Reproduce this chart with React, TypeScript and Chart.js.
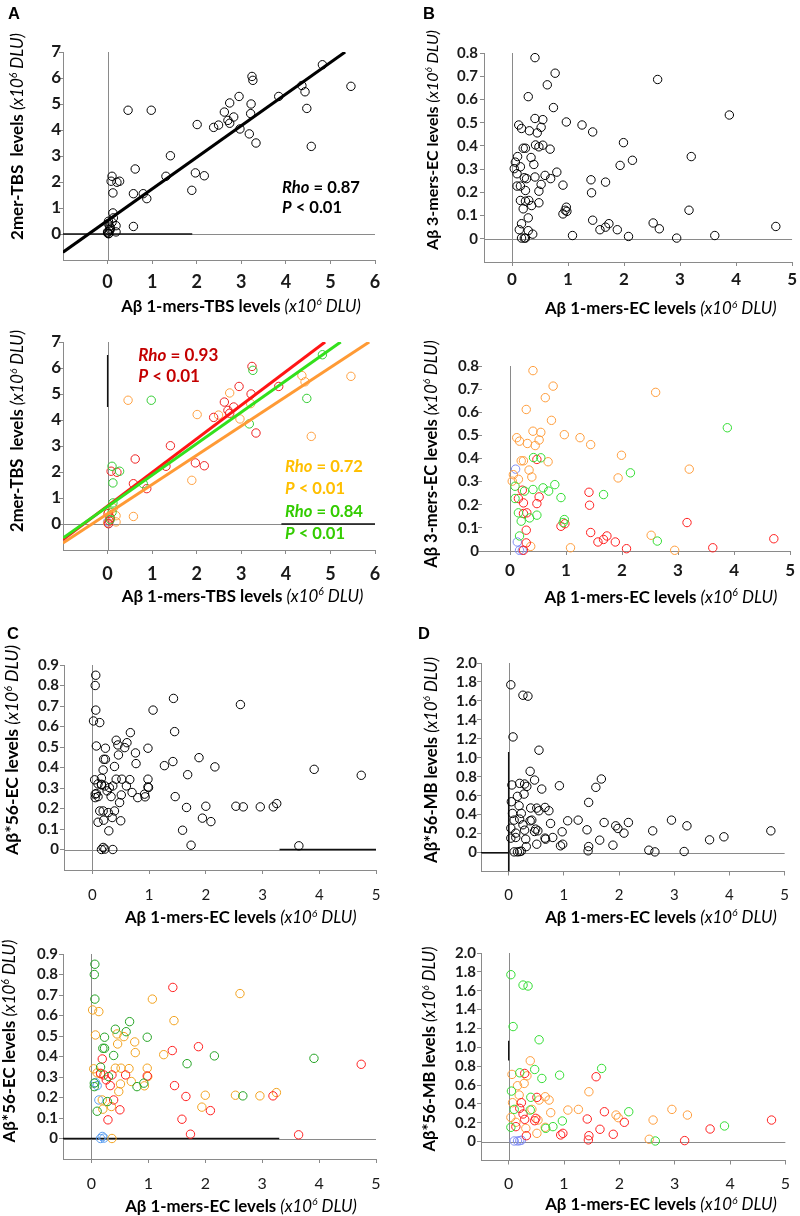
import React, { useEffect, useRef } from 'react';
import { Chart, registerables } from 'chart.js';

Chart.register(...registerables);

type P = [number, number];

// ---------- Titles ----------
const X_TITLE_TBS = 'Aβ 1-mers-TBS levels';
const X_TITLE_EC = 'Aβ 1-mers-EC levels';
const Y_TITLE_A = '2mer-TBS  levels';
const Y_TITLE_B = 'Aβ 3-mers-EC levels';
const Y_TITLE_C = 'Aβ*56-EC levels';
const Y_TITLE_D = 'Aβ*56-MB levels';
const UNIT_PREFIX = '(x10';
const UNIT_EXP = '6';
const UNIT_SUFFIX = ' DLU)';

// ---------- Tick values ----------
const A_X_TICKS = [0, 1, 2, 3, 4, 5, 6];
const A_Y_TICKS = [0, 1, 2, 3, 4, 5, 6, 7];
const EC_X_TICKS = [0, 1, 2, 3, 4, 5];
const B_Y_TICKS = [0, 0.1, 0.2, 0.3, 0.4, 0.5, 0.6, 0.7, 0.8];
const C_Y_TICKS = [0, 0.1, 0.2, 0.3, 0.4, 0.5, 0.6, 0.7, 0.8, 0.9];
const D_Y_TICKS = [0, 0.2, 0.4, 0.6, 0.8, 1.0, 1.2, 1.4, 1.6, 1.8, 2.0];

// ---------- Panel A: 1-mers-TBS vs 2mer-TBS ----------
const A_RED: P[] = [[0.08, 2.03], [0.21, 1.99], [0.62, 2.5], [0.58, 1.55], [0.88, 1.36], [1.31, 2.22], [1.41, 3.01], [1.97, 2.35], [2.17, 2.24], [2.38, 4.1], [2.62, 4.69], [2.7, 4.37], [2.74, 4.26], [2.83, 4.5], [2.95, 5.29], [3.24, 6.06], [3.22, 5.0], [3.33, 3.5], [3.84, 5.29], [0.01, 0.4], [0.06, 0.23], [0.02, 0.01], [0.04, 0.12]];
const A_ORANGE: P[] = [[0.46, 4.76], [1.89, 1.68], [2.01, 4.21], [2.49, 4.19], [2.74, 5.04], [2.97, 4.04], [3.21, 4.63], [4.36, 5.71], [4.43, 5.47], [4.57, 3.37], [5.46, 5.68], [0.58, 0.29], [0.13, 0.62], [0.19, 0.32], [0.19, 0.08], [0.02, 0.49], [0.0, 0.04], [0.05, 0.3]];
const A_GREEN: P[] = [[0.98, 4.76], [0.1, 2.22], [0.27, 2.03], [0.12, 1.58], [0.8, 1.55], [3.18, 3.85], [3.26, 5.91], [4.47, 4.83], [4.82, 6.51], [0.12, 0.81], [0.06, 0.17], [0.1, 0.45]];
const A_BLUE: P[] = [[0.0, 0.08], [0.03, 0.02]];
const A_FIT_ALL: P[] = [[-1, -0.7], [5.33, 7]];
const A_FIT_RED: P[] = [[-1, -0.6], [4.88, 7]];
const A_FIT_GREEN: P[] = [[-1, -0.54], [5.23, 7]];
const A_FIT_ORANGE: P[] = [[-1, -0.73], [5.87, 7]];
const A_STATS_ALL = ['0.87', '0.01'];
const A_STATS_RED = ['0.93', '0.01'];
const A_STATS_ORANGE = ['0.72', '0.01'];
const A_STATS_GREEN = ['0.84', '0.01'];

// ---------- Panel B: 1-mers-EC vs 3-mers-EC ----------
const B_ORANGE: P[] = [[0.41, 0.78], [0.77, 0.713], [0.63, 0.663], [0.29, 0.612], [0.74, 0.565], [0.12, 0.49], [0.17, 0.475], [0.31, 0.465], [0.41, 0.518], [0.55, 0.513], [0.52, 0.48], [0.45, 0.456], [0.97, 0.503], [1.25, 0.49], [1.44, 0.46], [1.99, 0.414], [1.93, 0.316], [3.2, 0.354], [2.6, 0.686], [0.2, 0.39], [0.24, 0.39], [0.68, 0.386], [0.34, 0.35], [0.39, 0.32], [0.06, 0.33], [0.04, 0.302], [0.15, 0.31], [2.52, 0.068], [2.94, 0.003], [1.08, 0.014], [0.37, 0.02]];
const B_RED: P[] = [[0.48, 0.396], [1.41, 0.254], [1.42, 0.198], [0.48, 0.205], [0.52, 0.234], [0.22, 0.263], [0.15, 0.227], [0.24, 0.208], [0.24, 0.162], [0.3, 0.165], [0.29, 0.09], [0.29, 0.035], [0.24, 0.003], [0.91, 0.107], [0.98, 0.118], [1.44, 0.08], [1.57, 0.039], [1.67, 0.05], [1.73, 0.065], [1.88, 0.039], [2.08, 0.01], [3.16, 0.123], [3.62, 0.014], [4.71, 0.053]];
const B_GREEN: P[] = [[3.88, 0.533], [2.15, 0.338], [1.67, 0.244], [0.42, 0.404], [0.55, 0.403], [0.8, 0.287], [0.59, 0.273], [0.69, 0.259], [0.41, 0.266], [0.26, 0.259], [0.91, 0.231], [0.97, 0.136], [0.95, 0.123], [2.63, 0.043], [0.48, 0.155], [0.35, 0.143], [0.2, 0.129], [0.15, 0.165], [0.09, 0.227], [0.09, 0.28], [0.17, 0.065]];
const B_BLUE: P[] = [[0.1, 0.354], [0.13, 0.039], [0.17, 0.003], [0.22, 0.003]];

// ---------- Panel C: 1-mers-EC vs Aβ*56-EC ----------
const C_GREEN: P[] = [[0.06, 0.85], [0.05, 0.8], [0.06, 0.68], [0.1, 0.133], [0.05, 0.253], [0.16, 0.348], [0.23, 0.494], [0.2, 0.44], [0.23, 0.44], [0.39, 0.405], [0.42, 0.533], [0.61, 0.521], [0.67, 0.57], [0.98, 0.494], [0.8, 0.253], [0.92, 0.27], [1.68, 0.365], [2.16, 0.403], [2.66, 0.208], [3.91, 0.391], [0.3, 0.302], [0.28, 0.18], [0.05, 0.27]];
const C_ORANGE: P[] = [[0.02, 0.627], [0.13, 0.619], [0.07, 0.505], [0.04, 0.34], [0.1, 0.32], [0.16, 0.315], [1.07, 0.68], [1.45, 0.575], [0.45, 0.51], [0.46, 0.461], [0.57, 0.497], [0.76, 0.471], [0.77, 0.419], [1.27, 0.409], [2.61, 0.707], [0.42, 0.343], [0.52, 0.343], [0.66, 0.341], [0.98, 0.343], [0.99, 0.302], [0.7, 0.278], [0.93, 0.257], [0.51, 0.266], [0.48, 0.229], [0.19, 0.188], [0.2, 0.143], [0.35, 0.156], [2.53, 0.211], [2.0, 0.211], [1.94, 0.153], [2.96, 0.208], [3.25, 0.224], [0.36, 0.0]];
const C_RED: P[] = [[1.43, 0.737], [1.42, 0.429], [1.88, 0.448], [0.19, 0.388], [0.16, 0.318], [0.22, 0.31], [0.36, 0.31], [0.98, 0.305], [0.6, 0.31], [0.33, 0.258], [1.46, 0.258], [0.26, 0.286], [0.29, 0.091], [0.39, 0.188], [0.5, 0.14], [1.66, 0.205], [1.59, 0.094], [1.74, 0.021], [2.09, 0.136], [3.19, 0.208], [3.64, 0.018], [4.74, 0.362]];
const C_BLUE: P[] = [[0.07, 0.273], [0.1, 0.258], [0.13, 0.188], [0.19, 0.01], [0.22, 0.002], [0.16, 0.0]];

// ---------- Panel D: 1-mers-EC vs Aβ*56-MB ----------
const D_GREEN: P[] = [[0.04, 1.77], [0.26, 1.66], [0.35, 1.65], [0.08, 1.22], [0.55, 1.08], [0.47, 0.765], [0.6, 0.67], [0.92, 0.705], [1.68, 0.776], [0.2, 0.73], [0.05, 0.536], [0.4, 0.47], [0.39, 0.335], [0.1, 0.342], [0.04, 0.152], [0.67, 0.141], [0.8, 0.159], [0.97, 0.219], [2.17, 0.317], [2.65, 0.007], [3.9, 0.166]];
const D_ORANGE: P[] = [[0.39, 0.857], [0.06, 0.713], [0.33, 0.698], [0.28, 0.617], [0.16, 0.593], [0.19, 0.494], [0.07, 0.413], [0.04, 0.257], [0.66, 0.476], [0.73, 0.441], [0.76, 0.307], [0.55, 0.441], [1.45, 0.529], [1.07, 0.335], [1.26, 0.342], [1.94, 0.282], [1.98, 0.254], [2.61, 0.229], [2.95, 0.342], [3.23, 0.282], [2.54, 0.025], [0.51, 0.088], [0.42, 0.342], [0.31, 0.141], [0.13, 0.205], [0.53, 0.229], [0.66, 0.152]];
const D_RED: P[] = [[0.29, 0.723], [1.58, 0.688], [0.51, 0.469], [0.23, 0.413], [0.26, 0.293], [0.2, 0.353], [0.29, 0.236], [0.47, 0.222], [0.49, 0.247], [0.13, 0.159], [0.32, 0.063], [1.73, 0.317], [2.09, 0.205], [1.42, 0.24], [0.94, 0.071], [0.98, 0.088], [1.45, 0.063], [1.44, 0.018], [1.65, 0.131], [1.89, 0.078], [3.18, 0.011], [3.64, 0.134], [4.75, 0.229]];
const D_BLUE: P[] = [[0.1, 0.007], [0.16, 0.007], [0.2, 0.01], [0.23, 0.015]];

// dark overdrawn segments visible in the original figure
const A1_DARK: P[][] = [[[-1, 0], [1.9, 0]]];
const A2_DARK: P[][] = [[[0, 4.5], [0, 6.5]], [[3.9, 0], [6, 0]]];
const C1_DARK: P[][] = [[[3.3, 0], [5, 0]]];
const C2_DARK: P[][] = [[[-0.5, 0], [3.3, 0]]];
const D1_DARK: P[][] = [[[-0.5, 0], [0, 0]], [[0, -0.2], [0, 1.06]]];
const D2_DARK: P[][] = [[[0, 0.86], [0, 1.07]]];

// ---------- styling ----------
const FAMILY = 'Lato, "Open Sans", "DejaVu Sans", sans-serif';
const LETTER_FAMILY = '"Liberation Sans", Arial, sans-serif';
const AXIS_GRAY = '#8a8a8a';

interface Run { t: string; b?: boolean; i?: boolean; sup?: boolean }
interface TextItem { runs: Run[]; x: number; y: number; color?: string; width?: number; size?: number; inherit?: boolean; rotate?: boolean; align?: 'center' | 'left'; family?: string }

function runFont(r: Run, size: number, family: string) {
  const s = r.sup ? size * 0.62 : size;
  return `${r.i ? 'italic ' : ''}${r.b ? 'bold ' : ''}${s}px ${family}`;
}
function measureRuns(ctx: CanvasRenderingContext2D, runs: Run[], size: number, family: string) {
  let w = 0;
  for (const r of runs) { ctx.font = runFont(r, size, family); w += ctx.measureText(r.t).width; }
  return w;
}

const titleRuns = (name: string): Run[] => [
  { t: name + ' ', b: true },
  { t: UNIT_PREFIX, i: true },
  { t: UNIT_EXP, i: true, sup: true },
  { t: UNIT_SUFFIX, i: true },
];
const rhoRuns = (v: string): Run[] => [{ t: 'Rho', b: true, i: true }, { t: ' = ' + v, b: true }];
const pRuns = (v: string): Run[] => [{ t: 'P', b: true, i: true }, { t: ' < ' + v, b: true }];

const pts = (arr: P[], color: string, order: number) => ({
  data: arr.map(([x, y]) => ({ x, y })),
  borderColor: color,
  backgroundColor: 'rgba(0,0,0,0)',
  pointBackgroundColor: 'rgba(0,0,0,0)',
  pointBorderColor: color,
  pointRadius: 4.2,
  pointHoverRadius: 4.2,
  pointBorderWidth: 1,
  showLine: false,
  clip: false as any,
  order,
});
const line = (arr: P[], color: string, width: number, order: number) => ({
  data: arr.map(([x, y]) => ({ x, y })),
  borderColor: color,
  backgroundColor: color,
  borderWidth: width,
  pointRadius: 0,
  pointHoverRadius: 0,
  showLine: true,
  order,
});
const darks = (segs: P[][]) => segs.map((s) => line(s, '#111111', 1.3, 20));

const intFmt = (v: number) => String(Math.round(v));
const decFmt = (v: number) => (Math.abs(v) < 1e-9 ? '0' : v.toFixed(1));

interface PanelSpec {
  key: string;
  left: number; top: number; width: number; height: number;
  area: { l: number; t: number; r: number; b: number };
  xr: [number, number]; yr: [number, number];
  xTicks: number[]; yTicks: number[];
  yFmt: (v: number) => string;
  xTickSize: number; yTickSize: number; xTickPad: number; yTickPad: number;
  xBold?: boolean; yBold?: boolean;
  yBorder?: boolean;
  datasets: any[];
  texts: TextItem[];
}

const RED = '#ff1f1f', ORANGE = '#ff9d3c', GREEN = '#33dd33', BLUE = '#7f8cf5';
const C_ORANGE_COL = '#f2a21e', C_GREEN_COL = '#23a323', C_BLUE_COL = '#5d9ff0';

const colored = (r: P[], o: P[], g: P[], b: P[], cols = [RED, ORANGE, GREEN, BLUE]) => [
  pts(b, cols[3], 9), pts(r, cols[0], 7), pts(o, cols[1], 8), pts(g, cols[2], 6),
];
const black = (...groups: P[][]) => [pts(groups.flat(), '#000000', 6)];

const PANELS: PanelSpec[] = [
  {
    key: 'A1', left: 0, top: 0, width: 400, height: 320,
    area: { l: 63, t: 52, r: 375, b: 260 }, xr: [-1, 6], yr: [-1, 7],
    xTicks: A_X_TICKS, yTicks: A_Y_TICKS, yFmt: intFmt,
    xTickSize: 18, yTickSize: 17, xTickPad: 7, yTickPad: -2, xBold: true, yBold: true,
    datasets: [...darks(A1_DARK), ...black(A_RED, A_ORANGE, A_GREEN, A_BLUE), line(A_FIT_ALL, '#000000', 3, 1)],
    texts: [
      { runs: [{ t: 'A', b: true }], x: 8, y: 18.5, size: 16.5, align: 'left', family: LETTER_FAMILY },
      { runs: titleRuns(X_TITLE_TBS), x: 241, y: 311.5, width: 240 },
      { runs: titleRuns(Y_TITLE_A), x: 23, y: 136.5, width: 207, rotate: true },
      { runs: rhoRuns(A_STATS_ALL[0]), x: 282, y: 192.7, width: 78, align: 'left' },
      { runs: pRuns(A_STATS_ALL[1]), x: 282, y: 213.3, inherit: true, align: 'left' },
    ],
  },
  {
    key: 'A2', left: 0, top: 320, width: 400, height: 290,
    area: { l: 63, t: 342, r: 375, b: 550 }, xr: [-1, 6], yr: [-1, 7],
    xTicks: A_X_TICKS, yTicks: A_Y_TICKS, yFmt: intFmt,
    xTickSize: 18, yTickSize: 17, xTickPad: 9, yTickPad: -2, xBold: true, yBold: true,
    datasets: [
      ...darks(A2_DARK),
      ...colored(A_RED, A_ORANGE, A_GREEN, A_BLUE, ['#ee2020', '#ffa040', '#33cc33', '#7799ff']),
      line(A_FIT_ORANGE, '#ff9a35', 3, 3), line(A_FIT_RED, '#ff1515', 3, 2), line(A_FIT_GREEN, '#33e01c', 3, 1),
    ],
    texts: [
      { runs: titleRuns(X_TITLE_TBS), x: 242.5, y: 601.7, width: 242 },
      { runs: titleRuns(Y_TITLE_A), x: 23, y: 431, width: 202, rotate: true },
      { runs: rhoRuns(A_STATS_RED[0]), x: 138.3, y: 360.7, width: 80, align: 'left', color: '#c40000' },
      { runs: pRuns(A_STATS_RED[1]), x: 138.3, y: 382.3, inherit: true, align: 'left', color: '#c40000' },
      { runs: rhoRuns(A_STATS_ORANGE[0]), x: 285, y: 471.7, width: 78, align: 'left', color: '#ffbf00' },
      { runs: pRuns(A_STATS_ORANGE[1]), x: 285, y: 494, inherit: true, align: 'left', color: '#ffbf00' },
      { runs: rhoRuns(A_STATS_GREEN[0]), x: 285, y: 517.3, width: 78, align: 'left', color: '#33cc00' },
      { runs: pRuns(A_STATS_GREEN[1]), x: 285, y: 539.3, inherit: true, align: 'left', color: '#33cc00' },
    ],
  },
  {
    key: 'B1', left: 400, top: 0, width: 400, height: 320,
    area: { l: 484, t: 53, r: 795, b: 262 }, xr: [-0.5, 5], yr: [-0.1, 0.8],
    xTicks: EC_X_TICKS, yTicks: B_Y_TICKS, yFmt: decFmt,
    xTickSize: 17, yTickSize: 15, xTickPad: 3, yTickPad: 2, xBold: true, yBold: true,
    datasets: [...black(B_RED, B_ORANGE, B_GREEN, B_BLUE)],
    texts: [
      { runs: [{ t: 'B', b: true }], x: 423, y: 18.5, size: 16.5, align: 'left', family: LETTER_FAMILY },
      { runs: titleRuns(X_TITLE_EC), x: 660.8, y: 314, width: 232 },
      { runs: titleRuns(Y_TITLE_B), x: 438, y: 140, width: 220, rotate: true },
    ],
  },
  {
    key: 'B2', left: 400, top: 320, width: 400, height: 290,
    area: { l: 482, t: 366, r: 796, b: 551 }, xr: [-0.5, 5], yr: [0, 0.8],
    xTicks: EC_X_TICKS, yTicks: B_Y_TICKS, yFmt: decFmt,
    xTickSize: 17, yTickSize: 15, xTickPad: 5, yTickPad: -1, yBorder: false, xBold: true, yBold: true,
    datasets: [...colored(B_RED, B_ORANGE, B_GREEN, B_BLUE)],
    texts: [
      { runs: titleRuns(X_TITLE_EC), x: 661, y: 602.7, width: 233 },
      { runs: titleRuns(Y_TITLE_B), x: 436.7, y: 454, width: 228, rotate: true },
    ],
  },
  {
    key: 'C1', left: 0, top: 610, width: 400, height: 320,
    area: { l: 64, t: 665, r: 376, b: 870 }, xr: [-0.5, 5], yr: [-0.1, 0.9],
    xTicks: EC_X_TICKS, yTicks: C_Y_TICKS, yFmt: decFmt,
    xTickSize: 15, yTickSize: 15, xTickPad: 12, yTickPad: 1, yBold: true,
    datasets: [...darks(C1_DARK), ...black(C_RED, C_ORANGE, C_GREEN, C_BLUE)],
    texts: [
      { runs: [{ t: 'C', b: true }], x: 7, y: 638.5, size: 16.5, align: 'left', family: LETTER_FAMILY },
      { runs: titleRuns(X_TITLE_EC), x: 240.8, y: 923.3, width: 232 },
      { runs: titleRuns(Y_TITLE_C), x: 18.3, y: 750, width: 210, rotate: true },
    ],
  },
  {
    key: 'C2', left: 0, top: 930, width: 400, height: 286,
    area: { l: 63, t: 954, r: 376, b: 1159 }, xr: [-0.5, 5], yr: [-0.1, 0.9],
    xTicks: EC_X_TICKS, yTicks: C_Y_TICKS, yFmt: decFmt,
    xTickSize: 16, yTickSize: 15, xTickPad: 11, yTickPad: 1, yBold: true,
    datasets: [...darks(C2_DARK), ...colored(C_RED, C_ORANGE, C_GREEN, C_BLUE, [RED, C_ORANGE_COL, C_GREEN_COL, C_BLUE_COL])],
    texts: [
      { runs: titleRuns(X_TITLE_EC), x: 241, y: 1211.7, width: 232 },
      { runs: titleRuns(Y_TITLE_C), x: 15, y: 1041, width: 203, rotate: true },
    ],
  },
  {
    key: 'D1', left: 400, top: 610, width: 400, height: 320,
    area: { l: 481, t: 663, r: 795, b: 871.5 }, xr: [-0.5, 5], yr: [-0.2, 2.0],
    xTicks: EC_X_TICKS, yTicks: D_Y_TICKS, yFmt: decFmt,
    xTickSize: 15, yTickSize: 15, xTickPad: 11, yTickPad: 0, yBold: true,
    datasets: [...darks(D1_DARK), ...black(D_RED, D_ORANGE, D_GREEN, D_BLUE)],
    texts: [
      { runs: [{ t: 'D', b: true }], x: 418, y: 638.5, size: 16.5, align: 'left', family: LETTER_FAMILY },
      { runs: titleRuns(X_TITLE_EC), x: 661, y: 922.7, width: 232 },
      { runs: titleRuns(Y_TITLE_D), x: 436.7, y: 760, width: 206, rotate: true },
    ],
  },
  {
    key: 'D2', left: 400, top: 930, width: 400, height: 286,
    area: { l: 481, t: 953, r: 793.5, b: 1160.5 }, xr: [-0.5, 5], yr: [-0.2, 2.0],
    xTicks: EC_X_TICKS, yTicks: D_Y_TICKS, yFmt: decFmt,
    xTickSize: 16, yTickSize: 15, xTickPad: 10, yTickPad: 1, yBold: true,
    datasets: [...darks(D2_DARK), ...colored(D_RED, D_ORANGE, D_GREEN, D_BLUE)],
    texts: [
      { runs: titleRuns(X_TITLE_EC), x: 661, y: 1210, width: 232 },
      { runs: titleRuns(Y_TITLE_D), x: 435, y: 1049, width: 205, rotate: true },
    ],
  },
];

function makeOverlay(spec: PanelSpec) {
  return {
    id: 'overlay_' + spec.key,
    beforeDatasetsDraw(chart: any) {
      const { ctx, chartArea: a } = chart;
      const px = Math.round(chart.scales.x.getPixelForValue(0)) + 0.5;
      const py = Math.round(chart.scales.y.getPixelForValue(0)) + 0.5;
      ctx.save();
      ctx.strokeStyle = AXIS_GRAY;
      ctx.lineWidth = 1;
      ctx.beginPath();
      ctx.moveTo(px, a.top);
      ctx.lineTo(px, a.bottom);
      ctx.moveTo(a.left, py);
      ctx.lineTo(a.right, py);
      ctx.stroke();
      ctx.restore();
    },
    afterDraw(chart: any) {
      const ctx: CanvasRenderingContext2D = chart.ctx;
      let lastSize = 16;
      for (const it of spec.texts) {
        const fam = it.family || FAMILY;
        let size = it.size ?? 16;
        if (it.inherit) size = lastSize;
        if (it.width) size = (size * it.width) / measureRuns(ctx, it.runs, size, fam);
        lastSize = size;
        const total = measureRuns(ctx, it.runs, size, fam);
        ctx.save();
        ctx.translate(it.x - spec.left, it.y - spec.top);
        if (it.rotate) ctx.rotate(-Math.PI / 2);
        ctx.fillStyle = it.color || '#000000';
        ctx.textBaseline = 'alphabetic';
        ctx.textAlign = 'left';
        let cx = it.align === 'left' ? 0 : -total / 2;
        for (const r of it.runs) {
          ctx.font = runFont(r, size, fam);
          ctx.fillText(r.t, cx, r.sup ? -size * 0.38 : 0);
          cx += ctx.measureText(r.t).width;
        }
        ctx.restore();
      }
    },
  };
}

function Panel({ spec }: { spec: PanelSpec }) {
  const ref = useRef<HTMLCanvasElement | null>(null);
  useEffect(() => {
    const canvas = ref.current;
    if (!canvas) return;
    const yAxisWidth = spec.area.l - spec.left;
    const xAxisHeight = spec.top + spec.height - spec.area.b;
    const chart = new Chart(canvas, {
      type: 'scatter',
      data: { datasets: spec.datasets },
      options: {
        animation: false,
        responsive: false,
        devicePixelRatio: 1,
        events: [],
        layout: {
          padding: { left: 0, top: spec.area.t - spec.top, right: spec.left + spec.width - spec.area.r, bottom: 0 },
        },
        plugins: { legend: { display: false }, tooltip: { enabled: false } },
        scales: {
          x: {
            type: 'linear',
            min: spec.xr[0],
            max: spec.xr[1],
            afterBuildTicks: (s: any) => { s.ticks = spec.xTicks.map((v) => ({ value: v })); },
            afterFit: (s: any) => { s.height = xAxisHeight; },
            ticks: {
              autoSkip: false, maxRotation: 0, minRotation: 0,
              padding: spec.xTickPad,
              color: '#1a1a1a',
              font: { family: FAMILY, size: spec.xTickSize, weight: spec.xBold ? 'bold' : 'normal' },
              callback: (v: any) => intFmt(Number(v)),
            },
            grid: { drawOnChartArea: false, drawTicks: true, tickLength: 4, color: AXIS_GRAY, lineWidth: 1 },
            border: { display: true, color: AXIS_GRAY, width: 1 },
          },
          y: {
            type: 'linear',
            min: spec.yr[0],
            max: spec.yr[1],
            afterBuildTicks: (s: any) => { s.ticks = spec.yTicks.map((v) => ({ value: v })); },
            afterFit: (s: any) => { s.width = yAxisWidth; },
            ticks: {
              autoSkip: false,
              padding: spec.yTickPad,
              color: '#1a1a1a',
              font: { family: FAMILY, size: spec.yTickSize, weight: spec.yBold ? 'bold' : 'normal' },
              callback: (v: any) => spec.yFmt(Number(v)),
            },
            grid: { drawOnChartArea: false, drawTicks: true, tickLength: 4, color: AXIS_GRAY, lineWidth: 1 },
            border: { display: spec.yBorder !== false, color: AXIS_GRAY, width: 1 },
          },
        },
      } as any,
      plugins: [makeOverlay(spec)],
    });
    return () => chart.destroy();
  }, [spec]);
  return (
    <canvas
      ref={ref}
      width={spec.width}
      height={spec.height}
      style={{ position: 'absolute', left: spec.left, top: spec.top, width: spec.width, height: spec.height }}
    />
  );
}

export default function App() {
  return (
    <div style={{ position: 'absolute', left: 0, top: 0, width: 800, height: 1216, background: '#ffffff', overflow: 'hidden' }}>
      {PANELS.map((p) => (
        <Panel key={p.key} spec={p} />
      ))}
    </div>
  );
}
